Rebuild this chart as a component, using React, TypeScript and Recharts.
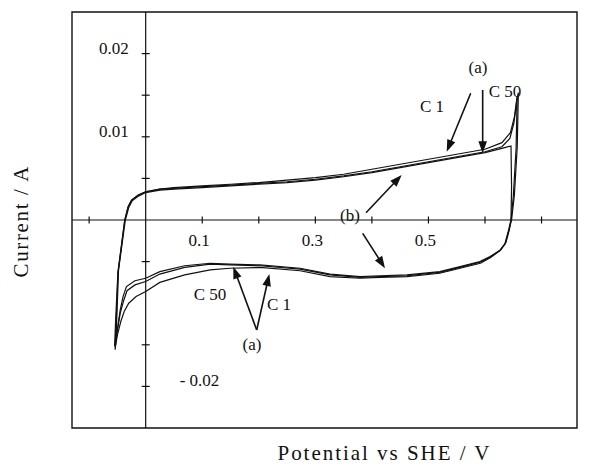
import React from 'react';
import { LineChart, Line, XAxis, YAxis, ReferenceLine, ReferenceDot, ReferenceArea, Label } from 'recharts';

// ---- data (potential vs SHE in V, current in A) ----
const c1Potential = [-0.054, -0.052, -0.049, -0.037, -0.031, -0.025, -0.013, 0.0, 0.025, 0.05, 0.1, 0.15, 0.2, 0.25, 0.3, 0.35, 0.4, 0.45, 0.5, 0.55, 0.6, 0.63, 0.645, 0.652, 0.656, 0.659, 0.658, 0.657, 0.652, 0.647, 0.642, 0.636, 0.627, 0.609, 0.591, 0.556, 0.52, 0.462, 0.414, 0.379, 0.326, 0.273, 0.202, 0.149, 0.114, 0.069, 0.025, 0.0, -0.019, -0.034, -0.04, -0.045, -0.051, -0.054];
const c1Current = [-0.0156, -0.012, -0.0064, 0.0, 0.0016, 0.0024, 0.003, 0.0034, 0.0037, 0.0039, 0.0041, 0.0043, 0.0045, 0.0048, 0.0051, 0.0055, 0.0061, 0.0067, 0.0073, 0.0079, 0.0085, 0.0093, 0.0105, 0.0124, 0.0144, 0.0153, 0.012, 0.0088, 0.003, 0.0, -0.0013, -0.0028, -0.0036, -0.0044, -0.005, -0.0056, -0.0062, -0.0066, -0.0067, -0.0068, -0.0065, -0.0058, -0.0054, -0.0053, -0.0052, -0.0055, -0.0062, -0.007, -0.0073, -0.008, -0.0092, -0.0108, -0.0136, -0.0156];

const c50Potential = [-0.055, -0.053, -0.049, -0.037, -0.031, -0.025, -0.013, 0.0, 0.025, 0.05, 0.1, 0.15, 0.2, 0.25, 0.3, 0.35, 0.4, 0.45, 0.5, 0.55, 0.6, 0.63, 0.644, 0.651, 0.655, 0.657, 0.656, 0.655, 0.65, 0.646, 0.641, 0.635, 0.626, 0.608, 0.59, 0.556, 0.52, 0.462, 0.414, 0.379, 0.326, 0.273, 0.202, 0.149, 0.114, 0.069, 0.025, 0.0, -0.019, -0.033, -0.039, -0.045, -0.051, -0.055];
const c50Current = [-0.0152, -0.0118, -0.0062, 0.0, 0.0016, 0.0024, 0.003, 0.0034, 0.0037, 0.0038, 0.004, 0.0042, 0.0044, 0.0046, 0.0049, 0.0053, 0.0058, 0.0064, 0.007, 0.0076, 0.0082, 0.0088, 0.0098, 0.0116, 0.0136, 0.0149, 0.0118, 0.0086, 0.0028, 0.0, -0.0014, -0.0029, -0.0037, -0.0045, -0.0051, -0.0057, -0.0063, -0.0067, -0.0068, -0.0069, -0.0066, -0.0059, -0.0055, -0.0054, -0.0053, -0.0057, -0.0065, -0.0074, -0.0078, -0.0085, -0.0097, -0.0112, -0.0136, -0.0152];

const bPotential = [-0.053, -0.051, -0.048, -0.036, -0.03, -0.024, -0.012, 0.0, 0.025, 0.05, 0.1, 0.15, 0.2, 0.25, 0.3, 0.35, 0.4, 0.45, 0.5, 0.55, 0.6, 0.63, 0.646, 0.647, 0.646, 0.643, 0.637, 0.628, 0.61, 0.592, 0.556, 0.52, 0.462, 0.414, 0.379, 0.326, 0.273, 0.202, 0.149, 0.114, 0.069, 0.025, 0.0, -0.017, -0.03, -0.038, -0.044, -0.05, -0.053];
const bCurrent = [-0.015, -0.0116, -0.006, 0.0, 0.0015, 0.0023, 0.0029, 0.0033, 0.0036, 0.0037, 0.0039, 0.0041, 0.0043, 0.0045, 0.0048, 0.0052, 0.0057, 0.0063, 0.0069, 0.0075, 0.0081, 0.0086, 0.0089, 0.004, 0.0, -0.0012, -0.0027, -0.0036, -0.0045, -0.0052, -0.0058, -0.0064, -0.0068, -0.0069, -0.007, -0.0068, -0.0061, -0.0057, -0.0058, -0.006, -0.0066, -0.0075, -0.0086, -0.0092, -0.01, -0.011, -0.0122, -0.0138, -0.015];

// ---- axes ----
const xDomain: [number, number] = [-0.1303, 0.7627];
const yDomain: [number, number] = [-0.025, 0.025];
const xTickValues = [-0.1, 0.1, 0.2, 0.3, 0.4, 0.5, 0.6, 0.7];
const xLabelValues = [0.1, 0.3, 0.5];
const xLabelTexts = ['0.1', '0.3', '0.5'];
const yTickValues = [0.02, 0.015, 0.01, 0.005, -0.005, -0.015, -0.02];
const yLabelValues = [0.02, 0.01, -0.02];
const yLabelTexts = ['0.02', '0.01', '- 0.02'];

// ---- annotations (data coordinates) ----
const noteTexts = ['(a)', 'C 50', 'C 1', '(b)', 'C 50', 'C 1', '(a)'];
const noteX = [0.5876, 0.6354, 0.5063, 0.3613, 0.1137, 0.2357, 0.188];
const noteY = [0.0183, 0.0154, 0.0137, 0.0006, -0.0089, -0.0102, -0.015];

const arrowFromX = [0.5747, 0.5959, 0.3896, 0.3837, 0.1963, 0.1963];
const arrowFromY = [0.01523, 0.01563, 0.00088, -0.0016, -0.01322, -0.01322];
const arrowToX = [0.5323, 0.5959, 0.4527, 0.4232, 0.1549, 0.2186];
const arrowToY = [0.00821, 0.00802, 0.00541, -0.0058, -0.00561, -0.00649];

const zip = (xs: number[], ys: number[]) => {
  const n = Math.min(xs.length, ys.length);
  const out: { x: number; y: number }[] = [];
  for (let i = 0; i < n; i++) out.push({ x: xs[i], y: ys[i] });
  return out;
};

const c1Data = zip(c1Potential, c1Current);
const c50Data = zip(c50Potential, c50Current);
const bData = zip(bPotential, bCurrent);

const FONT = '"Liberation Serif", "Times New Roman", serif';
const INK = '#111';

const ArrowShape = (props: any) => {
  const { x1, y1, x2, y2 } = props;
  if ([x1, y1, x2, y2].some((v) => typeof v !== 'number' || isNaN(v))) return null;
  const dx = x2 - x1;
  const dy = y2 - y1;
  const len = Math.hypot(dx, dy) || 1;
  const ux = dx / len;
  const uy = dy / len;
  const hl = 12;
  const hw = 4.3;
  const bx = x2 - ux * hl;
  const by = y2 - uy * hl;
  const px = -uy;
  const py = ux;
  return (
    <g>
      <line x1={x1} y1={y1} x2={bx + ux * 2} y2={by + uy * 2} stroke={INK} strokeWidth={1.6} />
      <polygon
        points={`${x2},${y2} ${bx + px * hw},${by + py * hw} ${bx - px * hw},${by - py * hw}`}
        fill={INK}
      />
    </g>
  );
};

const XTitle = (props: any) => {
  const vb = props.viewBox || { x: 72, y: 428, width: 505, height: 40 };
  return (
    <text
      x={vb.x + 311.5}
      y={vb.y + 25}
      textAnchor="middle"
      dominantBaseline="central"
      fontFamily={FONT}
      fontSize={21}
      fill={INK}
      textLength={212}
      lengthAdjust="spacing"
    >
      Potential vs  SHE / V
    </text>
  );
};

const YTitle = (props: any) => {
  const vb = props.viewBox || { x: 0, y: 12, width: 72, height: 416 };
  const cx = vb.x + 21;
  const cy = vb.y + 210;
  return (
    <text
      x={cx}
      y={cy}
      transform={`rotate(-90, ${cx}, ${cy})`}
      textAnchor="middle"
      dominantBaseline="central"
      fontFamily={FONT}
      fontSize={21}
      fill={INK}
      textLength={111}
      lengthAdjust="spacing"
    >
      Current / A
    </text>
  );
};

export default function App() {
  return (
    <div style={{ position: 'absolute', left: 0, top: 0, background: '#fff' }}>
      <LineChart width={589} height={468} margin={{ top: 12, right: 12, left: 0, bottom: 0 }}>
        <XAxis
          type="number"
          dataKey="x"
          domain={xDomain}
          allowDataOverflow
          tick={false}
          tickLine={false}
          axisLine={false}
          height={40}
          label={<Label content={XTitle} />}
        />
        <YAxis
          type="number"
          dataKey="y"
          domain={yDomain}
          allowDataOverflow
          tick={false}
          tickLine={false}
          axisLine={false}
          width={72}
          label={<Label content={YTitle} />}
        />
        <ReferenceArea
          x1={xDomain[0]}
          x2={xDomain[1]}
          y1={yDomain[0]}
          y2={yDomain[1]}
          fill="none"
          fillOpacity={0}
          stroke={INK}
          strokeWidth={1.4}
          ifOverflow="visible"
        />
        <ReferenceLine y={0} stroke={INK} strokeWidth={1.2} />
        <ReferenceLine x={0} stroke={INK} strokeWidth={1.2} />
        {xTickValues.map((t) => (
          <ReferenceDot
            key={`xt${t}`}
            x={t}
            y={0}
            r={1}
            shape={(p: any) => (
              <line x1={p.cx} y1={p.cy - 3.5} x2={p.cx} y2={p.cy + 3.5} stroke={INK} strokeWidth={1.2} />
            )}
          />
        ))}
        {yTickValues.map((t) => (
          <ReferenceDot
            key={`yt${t}`}
            x={0}
            y={t}
            r={1}
            shape={(p: any) => (
              <line x1={p.cx - 4} y1={p.cy} x2={p.cx + 4} y2={p.cy} stroke={INK} strokeWidth={1.2} />
            )}
          />
        ))}
        {xLabelValues.map((t, i) => (
          <ReferenceDot
            key={`xl${t}`}
            x={t}
            y={0}
            r={1}
            shape={(p: any) => (
              <text
                x={p.cx - 3}
                y={p.cy + 20}
                textAnchor="middle"
                dominantBaseline="central"
                fontFamily={FONT}
                fontSize={17}
                fill={INK}
              >
                {xLabelTexts[i]}
              </text>
            )}
          />
        ))}
        {yLabelValues.map((t, i) => (
          <ReferenceDot
            key={`yl${t}`}
            x={0}
            y={t}
            r={1}
            shape={(p: any) => (
              <text
                x={t < 0 ? p.cx + 34 : p.cx - 17}
                y={t < 0 ? p.cy - 6 : p.cy - 5}
                textAnchor={t < 0 ? 'start' : 'end'}
                dominantBaseline="central"
                fontFamily={FONT}
                fontSize={17}
                fill={INK}
              >
                {yLabelTexts[i]}
              </text>
            )}
          />
        ))}
        <Line data={bData} dataKey="y" type="linear" dot={false} stroke={INK} strokeWidth={1.2} isAnimationActive={false} />
        <Line data={c50Data} dataKey="y" type="linear" dot={false} stroke={INK} strokeWidth={1.2} isAnimationActive={false} />
        <Line data={c1Data} dataKey="y" type="linear" dot={false} stroke={INK} strokeWidth={1.2} isAnimationActive={false} />
        {arrowFromX.map((x, i) => (
          <ReferenceLine
            key={`ar${i}`}
            segment={[
              { x, y: arrowFromY[i] },
              { x: arrowToX[i], y: arrowToY[i] },
            ]}
            ifOverflow="visible"
            shape={ArrowShape}
          />
        ))}
        {noteTexts.map((txt, i) => (
          <ReferenceDot
            key={`nt${i}`}
            x={noteX[i]}
            y={noteY[i]}
            r={1}
            shape={(p: any) => (
              <text
                x={p.cx}
                y={p.cy}
                textAnchor="middle"
                dominantBaseline="central"
                fontFamily={FONT}
                fontSize={17}
                fill={INK}
              >
                {txt}
              </text>
            )}
          />
        ))}
      </LineChart>
    </div>
  );
}
